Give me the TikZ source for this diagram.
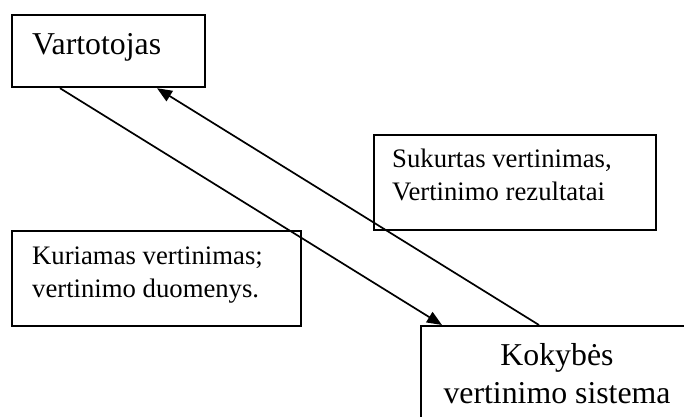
\documentclass[tikz,border=0pt]{standalone}
\usepackage{fontspec}
\setmainfont{Liberation Serif}
\usetikzlibrary{arrows.meta,calc}
\begin{document}
\begin{tikzpicture}[x=1pt,y=-1pt,
  box/.style={draw,line width=2.2pt,rectangle,anchor=north west,inner sep=0pt},
  conn/.style={line width=1.7pt,-{Triangle[length=15pt,width=12pt]}},
  small/.style={font=\fontsize{26.7}{32.5}\selectfont,inner sep=0pt},
  big/.style={font=\fontsize{31.8}{38}\selectfont,inner sep=0pt}]
\useasboundingbox (0,0) rectangle (684,416);
\clip (0,0) rectangle (684,416);

% boxes
\node[box,minimum width=193pt,minimum height=72pt] (vart) at (11,14) {};
\node[box,minimum width=282pt,minimum height=95pt] (suk) at (373,134) {};
\node[box,minimum width=289pt,minimum height=95pt] (kur) at (11,230) {};
\node[box,minimum width=274pt,minimum height=115pt] (kok) at (420,325) {};

% texts (multi-line nodes are anchored at the baseline of their last line)
\node[big,anchor=base west] (vartTxt) at (32,54) {Vartotojas};
\node[small,anchor=base west,align=left] (sukTxt) at (392,200)
  {Sukurtas vertinimas,\\Vertinimo rezultatai};
\node[small,anchor=base west,align=left] (kurTxt) at (32,297)
  {Kuriamas vertinimas;\\vertinimo duomenys.};
\node[big,anchor=base,align=center] (kokTxt) at (557,403)
  {Kokybės\\vertinimo sistema};

% connectors
\draw[conn] ($(vart.south west)+(49,0)$) -- ($(kok.north west)+(22,0)$);
\draw[conn] ($(kok.north west)+(119,0)$) -- ($(vart.south west)+(146,0)$);
\end{tikzpicture}
\end{document}
